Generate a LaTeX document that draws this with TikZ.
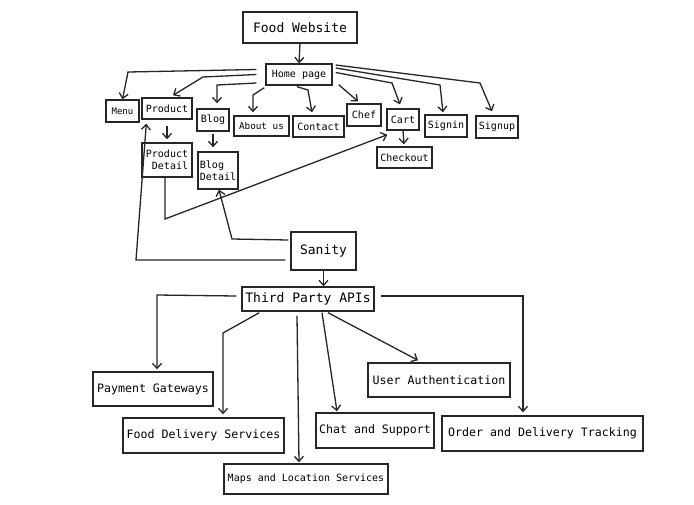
\documentclass[tikz,border=0pt]{standalone}
\usepackage{fontspec}
\setmonofont{DejaVu Sans Mono}
\usetikzlibrary{arrows.meta,calc}
\newcommand\fsz[2]{\fontsize{#1}{#2}\ttfamily\selectfont}
\begin{document}
\begin{tikzpicture}[x=1pt,y=-1pt,
  box/.style={draw=black!85,line width=1.4pt,inner sep=0pt,align=center},
  arr/.style={draw=black!85,line width=1.3pt,-{Straight Barb[length=5pt,width=9pt,line width=1.3pt]}},
  ln/.style={draw=black!85,line width=1.3pt}]
\useasboundingbox[fill=white] (0,0) rectangle (694,504);
% top
\node[box,minimum width=114,minimum height=31,font=\fsz{13}{15}] (food) at (300,27.5) {Food Website};
\node[box,minimum width=66,minimum height=21,font=\fsz{10}{12}] (home) at (299,74.5) {Home page};
\node[box,minimum width=33,minimum height=22,font=\fsz{9}{11}] (menu) at (122.5,111) {Menu};
\node[box,minimum width=50,minimum height=21,font=\fsz{10}{12}] (product) at (167,108.5) {Product};
\node[box,minimum width=32,minimum height=22,font=\fsz{10}{12}] (blog) at (213,120) {Blog};
\node[box,minimum width=55,minimum height=20,font=\fsz{9.3}{11}] (about) at (261.5,126) {About us};
\node[box,minimum width=51,minimum height=21,font=\fsz{10}{12}] (contact) at (318.5,126.5) {Contact};
\node[box,minimum width=34,minimum height=22,font=\fsz{10}{12}] (chef) at (364,115) {Chef};
\node[box,minimum width=32,minimum height=21,font=\fsz{10}{12}] (cart) at (403,119.5) {Cart};
\node[box,minimum width=42,minimum height=22,font=\fsz{10}{12}] (signin) at (446,126) {Signin};
\node[box,minimum width=42,minimum height=22,font=\fsz{10}{12}] (signup) at (497,127) {Signup};
\node[box,minimum width=55,minimum height=21,font=\fsz{10}{12}] (checkout) at (404.5,157.5) {Checkout};
\node[box,minimum width=50,minimum height=34,font=\fsz{10}{12.5}] (pdetail) at (167,160) {Product\\ \ Detail};
\node[box,minimum width=40,minimum height=37,font=\fsz{10}{12.5},align=left] (bdetail) at (218,170.5) {Blog\\Detail};
\node[box,minimum width=65,minimum height=38,font=\fsz{13}{15}] (sanity) at (323.5,251) {Sanity};
\node[box,minimum width=132,minimum height=24,font=\fsz{13}{15}] (tpa) at (308,299) {Third Party APIs};
% bottom
\node[box,minimum width=120,minimum height=34,font=\fsz{11.6}{14}] (pay) at (153,389) {Payment Gateways};
\node[box,minimum width=161,minimum height=35,font=\fsz{11.6}{14}] (fds) at (203.5,435.5) {Food Delivery Services};
\node[box,minimum width=164,minimum height=30,font=\fsz{10}{12}] (maps) at (306,479) {Maps and Location Services};
\node[box,minimum width=118,minimum height=35,font=\fsz{11.6}{14}] (chat) at (375,430.5) {Chat and Support};
\node[box,minimum width=142,minimum height=34,font=\fsz{11.6}{14}] (user) at (439,380) {User Authentication};
\node[box,minimum width=201,minimum height=35,font=\fsz{11.6}{14}] (order) at (542.5,433.5) {Order and Delivery Tracking};
% connectors
\draw[arr] (food.south) -- (home.north);
\draw[arr] ($(home.west)+(-9,-5)$) -- (128,72) -- (menu.north);
\draw[arr] ($(home.west)+(-9,0)$) -- (203,77) -- ($(product.north)+(6,-2)$);
\draw[arr] ($(home.west)+(-9,8.5)$) -- (217,85) -- ($(blog.north)+(4,-5)$);
\draw[arr] ($(home.south west)+(-1,2)$) -- (253,95) -- ($(about.north)+(-8.5,-3)$);
\draw[arr] ($(home.south)+(-2,1)$) -- (308,90) -- ($(contact.north)+(-6.5,-3)$);
\draw[arr] ($(home.south east)+(6,-1)$) -- ($(chef.north)+(-6,-2)$);
\draw[arr] ($(home.east)+(3,-2)$) -- (392,83) -- ($(cart.north)+(-3,-4)$);
\draw[arr] ($(home.east)+(3,-6.5)$) -- (440,85) -- ($(signin.north)+(-3,-2)$);
\draw[arr] ($(home.east)+(3,-9.5)$) -- (480,83) -- ($(signup.north)+(-5,-4)$);
\draw[arr] ($(product.south)+(0,6)$) -- ($(pdetail.north)+(0,-3)$);
\draw[arr] ($(blog.south)+(0,2)$) -- ($(bdetail.north)+(-5,-4)$);
\draw[arr] (cart.south) -- ($(checkout.north)+(-0.5,-2)$);
\draw[arr] ($(pdetail.south)+(-2,0)$) -- (165,219) -- ($(cart.south west)+(1,4)$);
\draw[arr] ($(sanity.west)+(-2,-11)$) -- (232,239) -- ($(bdetail.south)+(1,0)$);
\draw[arr] ($(sanity.west)+(-5,9)$) -- (136,260) -- ($(product.south west)+(5,4)$);
\draw[arr] (sanity.south) -- ($(tpa.north)+(15.5,0)$);
\draw[arr] ($(tpa.west)+(-5,-3)$) -- (157,295) -- ($(pay.north)+(4,-2)$);
\draw[arr] ($(tpa.south west)+(18,1)$) -- (223,333) -- ($(fds.north)+(19.5,-3)$);
\draw[arr] ($(tpa.south)+(-11,4)$) -- ($(maps.north)+(-7,-1)$);
\draw[arr] ($(tpa.south)+(14,1)$) -- ($(chat.north)+(-38,-1)$);
\draw[arr] ($(tpa.south)+(20,1)$) -- ($(user.north)+(-21,-2)$);
\draw[arr] ($(tpa.east)+(6,-3)$) -- (523,296) -- ($(order.north)+(-19.5,-3)$);
\end{tikzpicture}
\end{document}
